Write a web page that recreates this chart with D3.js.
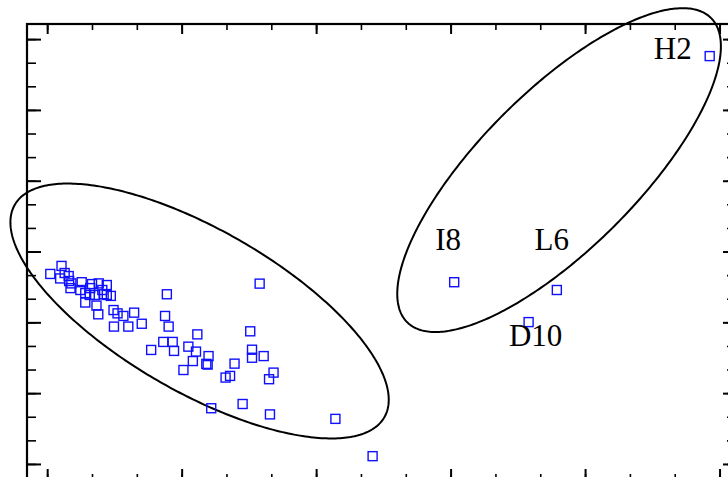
<!DOCTYPE html>
<html>
<head>
<meta charset="utf-8">
<script src="https://cdn.jsdelivr.net/npm/d3@7"></script>
<style>
  html, body { margin: 0; padding: 0; background: #fff; }
  svg { display: block; }
</style>
</head>
<body>
<svg id="chart" width="728" height="477"></svg>
<script>
// ---- data ----
const groupX = [0.07, 0.32, 0.29, 0.39, 0.48, 0.49, 0.52, 0.54, 0.77, 0.74, 0.85, 0.85, 0.96, 1.00, 1.15, 1.33,
  1.07, 1.10, 1.14, 1.23, 1.26, 1.33, 1.42, 0.95, 1.48, 1.57, 1.70, 1.49, 1.81, 1.94, 2.11,
  2.67, 2.63, 2.71, 2.32, 2.59, 2.80, 2.83, 3.15, 3.35, 3.32, 3.25, 3.04, 3.60, 3.55, 3.58,
  4.18, 3.98, 4.08, 4.53, 4.57, 4.57, 4.83, 5.05, 4.95, 4.74, 3.66, 4.36, 4.97, 6.43, 7.26];
const groupY = [8.05, 8.39, 7.86, 8.09, 7.96, 7.75, 7.45, 7.65, 7.70, 7.37, 7.24, 6.84, 7.45, 7.62, 7.65, 7.58,
  7.16, 6.71, 6.34, 7.37, 7.19, 7.16, 7.12, 7.16, 6.52, 6.38, 6.27, 5.82, 5.82, 6.41, 5.94,
  7.19, 6.27, 5.82, 4.83, 5.17, 5.17, 4.79, 4.97, 5.49, 4.76, 4.36, 3.98, 4.57, 4.24, 4.21,
  4.25, 3.66, 3.73, 5.62, 4.84, 4.50, 4.57, 3.87, 3.59, 7.64, 2.36, 2.54, 2.10, 1.91, 0.33];

const labelNames = ["H2", "I8", "L6", "D10"];
const labelX = [14.78, 9.08, 11.37, 10.74];
const labelY = [17.28, 7.70, 7.37, 6.01];

// confidence ellipses: centre, half extents (x, y) and correlation
const ellCx = [3.40, 11.42];
const ellCy = [6.48, 12.45];
const ellSx = [4.22, 3.61];
const ellSy = [5.40, 6.86];
const ellR = [-0.696, 0.764];

const xMajor = [0, 3, 6, 9, 12, 15];
const xMinor = d3.range(0, 16);
const yMajor = [0, 3, 6, 9, 12, 15, 18];
const yMinor = d3.range(0, 19);

// ---- drawing ----
const svg = d3.select("#chart");
const x = d3.scaleLinear().domain([-0.45, 15.3]).range([27, 733]);
const y = d3.scaleLinear().domain([-0.68, 18.64]).range([480, 24]);

const [x0, x1] = x.range();
const [y1, y0] = y.range();

// axes ticks (inward)
function tickAxis(axisFn, vals, len, tr, w) {
  const g = svg.append("g").attr("transform", tr)
    .call(axisFn.tickValues(vals).tickSize(-len).tickFormat(""));
  g.select(".domain").remove();
  g.selectAll(".tick line").attr("stroke", "#000").attr("stroke-width", w);
}
tickAxis(d3.axisTop(x), xMinor, 6, `translate(0,${y0})`, 1.6);
tickAxis(d3.axisTop(x), xMajor, 10, `translate(0,${y0})`, 2);
tickAxis(d3.axisBottom(x), xMinor, 6, `translate(0,${y1})`, 1.6);
tickAxis(d3.axisBottom(x), xMajor, 11, `translate(0,${y1})`, 2);
tickAxis(d3.axisLeft(y), yMinor, 9, `translate(${x0},0)`, 1.6);
tickAxis(d3.axisLeft(y), yMajor, 14, `translate(${x0},0)`, 2);
tickAxis(d3.axisRight(y), yMinor, 6, `translate(${x1},0)`, 1.6);
tickAxis(d3.axisRight(y), yMajor, 10, `translate(${x1},0)`, 2);

svg.append("rect")
  .attr("x", x0).attr("y", y0)
  .attr("width", x1 - x0).attr("height", y1 - y0)
  .attr("fill", "none").attr("stroke", "#000").attr("stroke-width", 2.2);

// ellipses
const line = d3.line().x(d => x(d[0])).y(d => y(d[1])).curve(d3.curveLinearClosed);
ellCx.forEach((cx, i) => {
  const r = ellR[i], s = Math.sqrt(1 - r * r);
  const pts = d3.range(0, 360, 1).map(a => {
    const t = a * Math.PI / 180;
    return [cx + ellSx[i] * Math.cos(t), ellCy[i] + ellSy[i] * (r * Math.cos(t) + s * Math.sin(t))];
  });
  svg.append("path").attr("d", line(pts))
    .attr("fill", "none").attr("stroke", "#000").attr("stroke-width", 2);
});

// points
const sz = 9;
const allX = groupX.concat(labelX), allY = groupY.concat(labelY);
svg.append("g").selectAll("rect")
  .data(allX.map((v, i) => [v, allY[i]]))
  .join("rect")
  .attr("x", d => x(d[0]) - sz / 2)
  .attr("y", d => y(d[1]) - sz / 2)
  .attr("width", sz).attr("height", sz)
  .attr("fill", "none").attr("stroke", "#1010ff").attr("stroke-width", 1.4);

// labels
const off = [[-18, 3, "end"], [-6, -32, "middle"], [-5, -40, "middle"], [7, 24, "middle"]];
svg.append("g").selectAll("text")
  .data(labelNames)
  .join("text")
  .attr("x", (d, i) => x(labelX[i]) + off[i][0])
  .attr("y", (d, i) => y(labelY[i]) + off[i][1])
  .attr("text-anchor", (d, i) => off[i][2])
  .attr("font-family", "'Liberation Serif', 'Times New Roman', serif")
  .attr("font-size", 31)
  .attr("fill", "#000")
  .text(d => d);
</script>
</body>
</html>
